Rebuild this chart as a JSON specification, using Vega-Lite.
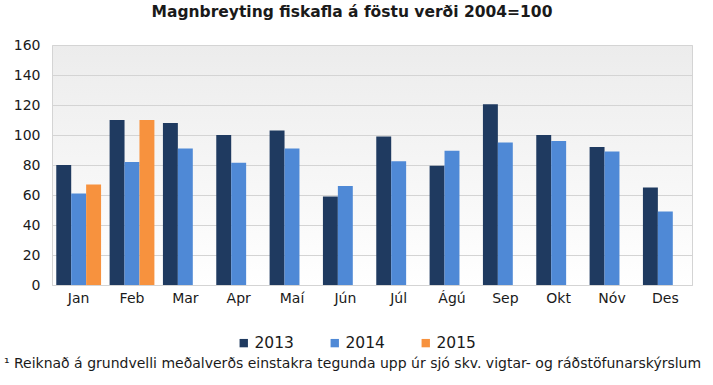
{
  "$schema": "https://vega.github.io/schema/vega-lite/v6.json",
  "autosize": "none",
  "width": 640,
  "height": 240,
  "padding": {"left": 52, "top": 45, "right": 21, "bottom": 100},
  "background": "white",
  "title": {
    "text": "Magnbreyting fiskafla á föstu verði 2004=100",
    "font": "DejaVu Sans",
    "fontSize": 15.5,
    "fontWeight": "bold",
    "color": "#1a1a1a",
    "anchor": "middle",
    "frame": "bounds",
    "offset": 18
  },
  "config": {
    "font": "DejaVu Sans",
    "view": {
      "stroke": "#d4d4d4",
      "strokeWidth": 1,
      "fill": {"gradient": "linear", "x1": 0, "y1": 0, "x2": 0, "y2": 1, "stops": [{"offset": 0, "color": "#ececec"}, {"offset": 1, "color": "#ffffff"}]}
    }
  },
  "data": {
    "values": [
      {"month": "Jan", "year": "2013", "value": 80},
      {"month": "Jan", "year": "2014", "value": 61},
      {"month": "Jan", "year": "2015", "value": 67},
      {"month": "Feb", "year": "2013", "value": 110},
      {"month": "Feb", "year": "2014", "value": 82},
      {"month": "Feb", "year": "2015", "value": 110},
      {"month": "Mar", "year": "2013", "value": 108},
      {"month": "Mar", "year": "2014", "value": 91},
      {"month": "Apr", "year": "2013", "value": 100},
      {"month": "Apr", "year": "2014", "value": 81.5},
      {"month": "Maí", "year": "2013", "value": 103},
      {"month": "Maí", "year": "2014", "value": 91},
      {"month": "Jún", "year": "2013", "value": 59},
      {"month": "Jún", "year": "2014", "value": 66},
      {"month": "Júl", "year": "2013", "value": 99},
      {"month": "Júl", "year": "2014", "value": 82.5},
      {"month": "Ágú", "year": "2013", "value": 79.5},
      {"month": "Ágú", "year": "2014", "value": 89.5},
      {"month": "Sep", "year": "2013", "value": 120.5},
      {"month": "Sep", "year": "2014", "value": 95},
      {"month": "Okt", "year": "2013", "value": 100},
      {"month": "Okt", "year": "2014", "value": 96},
      {"month": "Nóv", "year": "2013", "value": 92},
      {"month": "Nóv", "year": "2014", "value": 89},
      {"month": "Des", "year": "2013", "value": 65},
      {"month": "Des", "year": "2014", "value": 49}
    ]
  },
  "mark": {"type": "bar"},
  "encoding": {
    "x": {
      "field": "month",
      "type": "nominal",
      "sort": ["Jan", "Feb", "Mar", "Apr", "Maí", "Jún", "Júl", "Ágú", "Sep", "Okt", "Nóv", "Des"],
      "scale": {"paddingInner": 0.16, "paddingOuter": 0.08},
      "axis": {
        "title": "¹ Reiknað á grundvelli meðalverðs einstakra tegunda upp úr sjó skv. vigtar- og ráðstöfunarskýrslum",
        "titleFont": "DejaVu Sans",
        "titleFontSize": 14,
        "titleFontWeight": "normal",
        "titleColor": "#1a1a1a",
        "titlePadding": 51,
        "titleX": 300,
        "labelAngle": 0,
        "labelFontSize": 14,
        "labelColor": "#1a1a1a",
        "labelPadding": 6,
        "ticks": false,
        "domainColor": "#d4d4d4"
      }
    },
    "xOffset": {"field": "year", "type": "nominal", "scale": {"domain": ["2013", "2014", "2015"]}},
    "y": {
      "field": "value",
      "type": "quantitative",
      "scale": {"domain": [0, 160]},
      "axis": {
        "title": null,
        "values": [0, 20, 40, 60, 80, 100, 120, 140, 160],
        "labelFontSize": 14,
        "labelColor": "#1a1a1a",
        "labelPadding": 12,
        "ticks": false,
        "domain": false,
        "gridColor": "#d4d4d4",
        "gridWidth": 1.2
      }
    },
    "color": {
      "field": "year",
      "type": "nominal",
      "scale": {"domain": ["2013", "2014", "2015"], "range": ["#1f3a60", "#4f89d6", "#f7923e"]},
      "legend": {
        "title": null,
        "orient": "none",
        "direction": "horizontal",
        "legendX": 184,
        "legendY": 290,
        "symbolType": "square",
        "symbolSize": 70,
        "symbolStrokeWidth": 0,
        "labelFontSize": 15.5,
        "labelColor": "#1a1a1a",
        "labelOffset": 3,
        "columnPadding": 33
      }
    }
  }
}
